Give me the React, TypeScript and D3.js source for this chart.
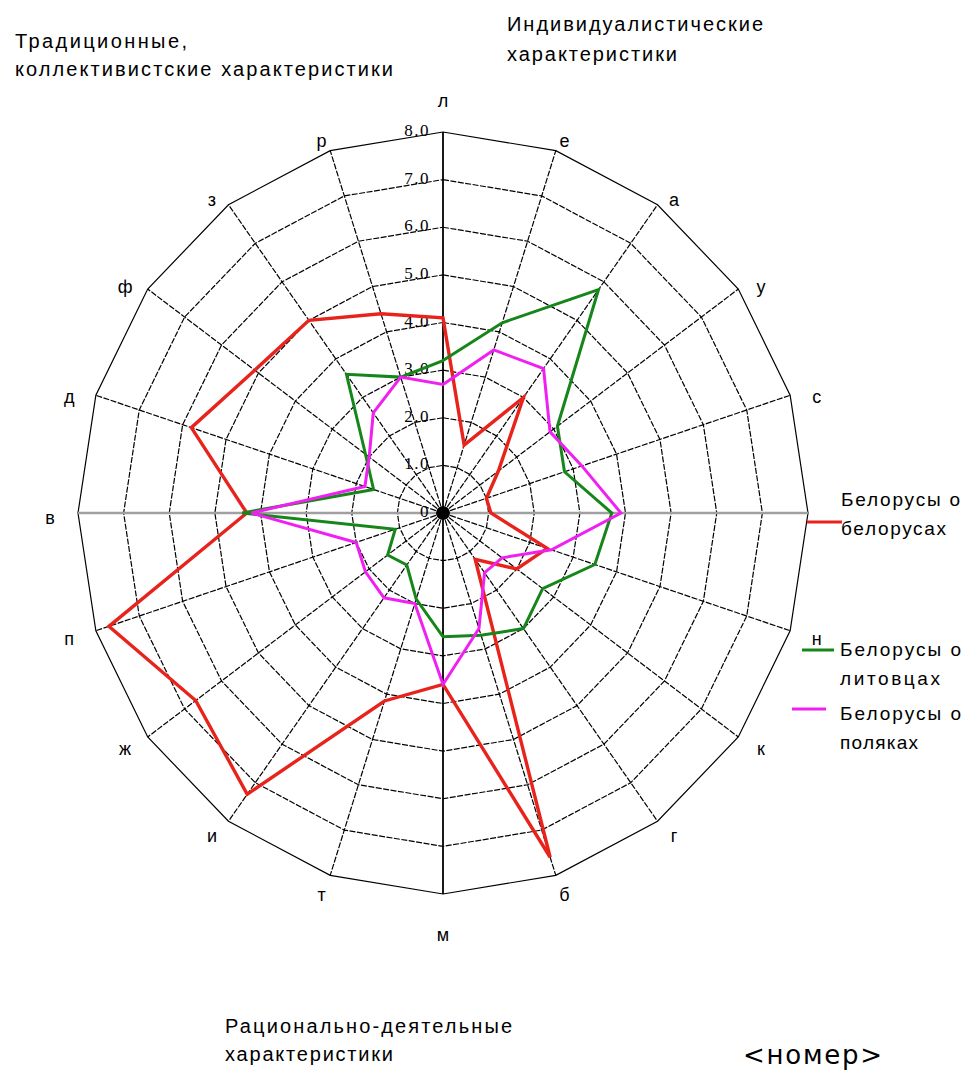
import React from "react";
import * as d3 from "d3";

// ---------- data ----------
const categories = ["л", "е", "а", "у", "с", "", "н", "к", "г", "б", "м", "т", "и", "ж", "п", "в", "д", "ф", "з", "р"];
const belarusiansOnBelarusians = [4.1, 1.5, 3.0, 1.5, 1.0, 1.05, 2.4, 2.0, 1.2, 7.6, 3.6, 4.15, 7.3, 6.7, 7.7, 4.3, 5.8, 5.1, 5.0, 4.4];
const belarusiansOnLithuanians = [3.2, 4.2, 5.8, 3.1, 2.8, 3.7, 3.5, 2.7, 3.0, 2.7, 2.6, 1.9, 1.35, 1.5, 1.1, 4.4, 1.6, 2.1, 3.6, 3.0];
const belarusiansOnPoles = [2.7, 3.6, 3.75, 2.9, 3.2, 3.9, 2.5, 1.6, 1.55, 2.55, 3.6, 2.0, 2.2, 2.1, 2.0, 4.2, 1.8, 2.0, 2.6, 3.0];
const seriesNames = [["Белорусы о", "белорусах"], ["Белорусы о", "литовцах"], ["Белорусы о", "поляках"]];
const tickValues = [0, 1, 2, 3, 4, 5, 6, 7, 8];
const tickLabels = ["0", "1.0", "2.0", "3.0", "4.0", "5.0", "6.0", "7.0", "8.0"];
const groupTitles = [
  ["Традиционные,", "коллективистские характеристики"],
  ["Индивидуалистические", "характеристики"],
  ["Рационально-деятельные", "характеристики"],
];
const pageLabel = "<номер>";

// ---------- layout / style ----------
const W = 975, H = 1074;
const cx = 443, cy = 513;
const colors = ["#e8231c", "#16861a", "#f020f0"];
const widths = [3.4, 3, 3];
const FONT = "'Liberation Sans', Arial, sans-serif";

const rX = d3.scaleLinear().domain([0, 8]).range([0, 365]);
const rY = d3.scaleLinear().domain([0, 8]).range([0, 381]);
const angle = d3.scaleLinear().domain([0, categories.length]).range([0, 2 * Math.PI]);
const px = (v: number, i: number) => cx + Math.sin(angle(i)) * rX(v);
const py = (v: number, i: number) => cy - Math.cos(angle(i)) * rY(v);

const closedLine = d3
  .line<[number, number]>()
  .x((d) => d[0])
  .y((d) => d[1])
  .curve(d3.curveLinearClosed);

const ringPath = (v: number) =>
  closedLine(categories.map((_, i) => [px(v, i), py(v, i)] as [number, number])) || "";

const seriesPath = (vals: number[]) =>
  closedLine(vals.map((v, i) => [px(v, i), py(v, i)] as [number, number])) || "";

const series = [belarusiansOnBelarusians, belarusiansOnLithuanians, belarusiansOnPoles];

const titleLayout = [
  { x: 15, y: 48, gap: 28, lens: [172, 378] },
  { x: 507, y: 31, gap: 30, lens: [256, 170] },
  { x: 225, y: 1033, gap: 28, lens: [287, 168] },
];
const legendLayout = [
  { x1: 807, x2: 842, ly: 522, tx: 841, ty: 506, lens: [119, 105] },
  { x1: 802, x2: 834, ly: 650, tx: 840, ty: 656, lens: [121, 100] },
  { x1: 792, x2: 826, ly: 709, tx: 840, ty: 720, lens: [121, 78] },
];

export default function App() {
  const labelR = 393;
  return (
    <svg
      width={W}
      height={H}
      viewBox={`0 0 ${W} ${H}`}
      style={{ position: "absolute", left: 0, top: 0, background: "#fff" }}
      xmlns="http://www.w3.org/2000/svg"
    >
      <rect x={0} y={0} width={W} height={H} fill="#fff" />
      {tickValues.slice(1).map((v) => (
        <path
          key={"ring" + v}
          d={ringPath(v)}
          fill="none"
          stroke="#000"
          strokeWidth={v === 8 ? 1.2 : 1.2}
          strokeDasharray={v === 8 ? undefined : "6 1.5"}
        />
      ))}
      {categories.map((_, i) => {
        if (i % 5 === 0) return null;
        return (
          <line
            key={"sp" + i}
            x1={cx}
            y1={cy}
            x2={px(8, i)}
            y2={py(8, i)}
            stroke="#000"
            strokeWidth={1.2}
            strokeDasharray="6 1.5"
          />
        );
      })}
      <line x1={px(8, 15)} y1={cy} x2={px(8, 5)} y2={cy} stroke="#a0a0a0" strokeWidth={2.4} />
      <line x1={cx} y1={py(8, 0)} x2={cx} y2={py(8, 10)} stroke="#000" strokeWidth={1.8} />
      <circle cx={cx} cy={cy} r={7} fill="#000" />

      {tickValues.map((v, k) => (
        <text
          key={"tk" + v}
          x={cx - 13}
          y={cy - rY(v) + 4}
          textAnchor="end"
          fontFamily="'Liberation Serif', 'Times New Roman', serif"
          fontSize={17}
          letterSpacing={1.5}
          fill="#000"
        >
          {tickLabels[k]}
        </text>
      ))}

      {series.map((vals, s) => (
        <path
          key={"s" + s}
          d={seriesPath(vals)}
          fill="none"
          stroke={colors[s]}
          strokeWidth={widths[s]}
          strokeLinejoin="miter"
        />
      ))}

      {categories.map((c, i) => {
        const a = angle(i);
        const cs = Math.cos(a);
        const extra = 24 * Math.pow(Math.abs(cs), 40);
        const x = cx + Math.sin(a) * labelR;
        const y = cy + 5 - cs * (labelR + extra);
        return (
          <text
            key={"cat" + i}
            x={x}
            y={y}
            textAnchor="middle"
            dominantBaseline="central"
            fontFamily={FONT}
            fontSize={18}
            fill="#000"
          >
            {c}
          </text>
        );
      })}

      {groupTitles.map((lines, g) =>
        lines.map((t, l) => (
          <text
            key={"gt" + g + "_" + l}
            x={titleLayout[g].x}
            y={titleLayout[g].y + l * titleLayout[g].gap}
            fontFamily={FONT}
            fontSize={20}
            textLength={titleLayout[g].lens[l]}
            lengthAdjust="spacing"
            fill="#000"
          >
            {t}
          </text>
        ))
      )}

      {seriesNames.map((lines, s) => (
        <g key={"lg" + s}>
          <line
            x1={legendLayout[s].x1}
            x2={legendLayout[s].x2}
            y1={legendLayout[s].ly}
            y2={legendLayout[s].ly}
            stroke={colors[s]}
            strokeWidth={3}
          />
          {lines.map((t, l) => (
            <text
              key={l}
              x={legendLayout[s].tx}
              y={legendLayout[s].ty + l * 29}
              fontFamily={FONT}
              fontSize={19}
              textLength={legendLayout[s].lens[l]}
              lengthAdjust="spacing"
              fill="#000"
            >
              {t}
            </text>
          ))}
        </g>
      ))}

      <text
        x={743}
        y={1064}
        fontFamily="'DejaVu Sans', sans-serif"
        fontSize={26}
        textLength={139}
        lengthAdjust="spacing"
        fill="#000"
      >
        {pageLabel}
      </text>
    </svg>
  );
}
